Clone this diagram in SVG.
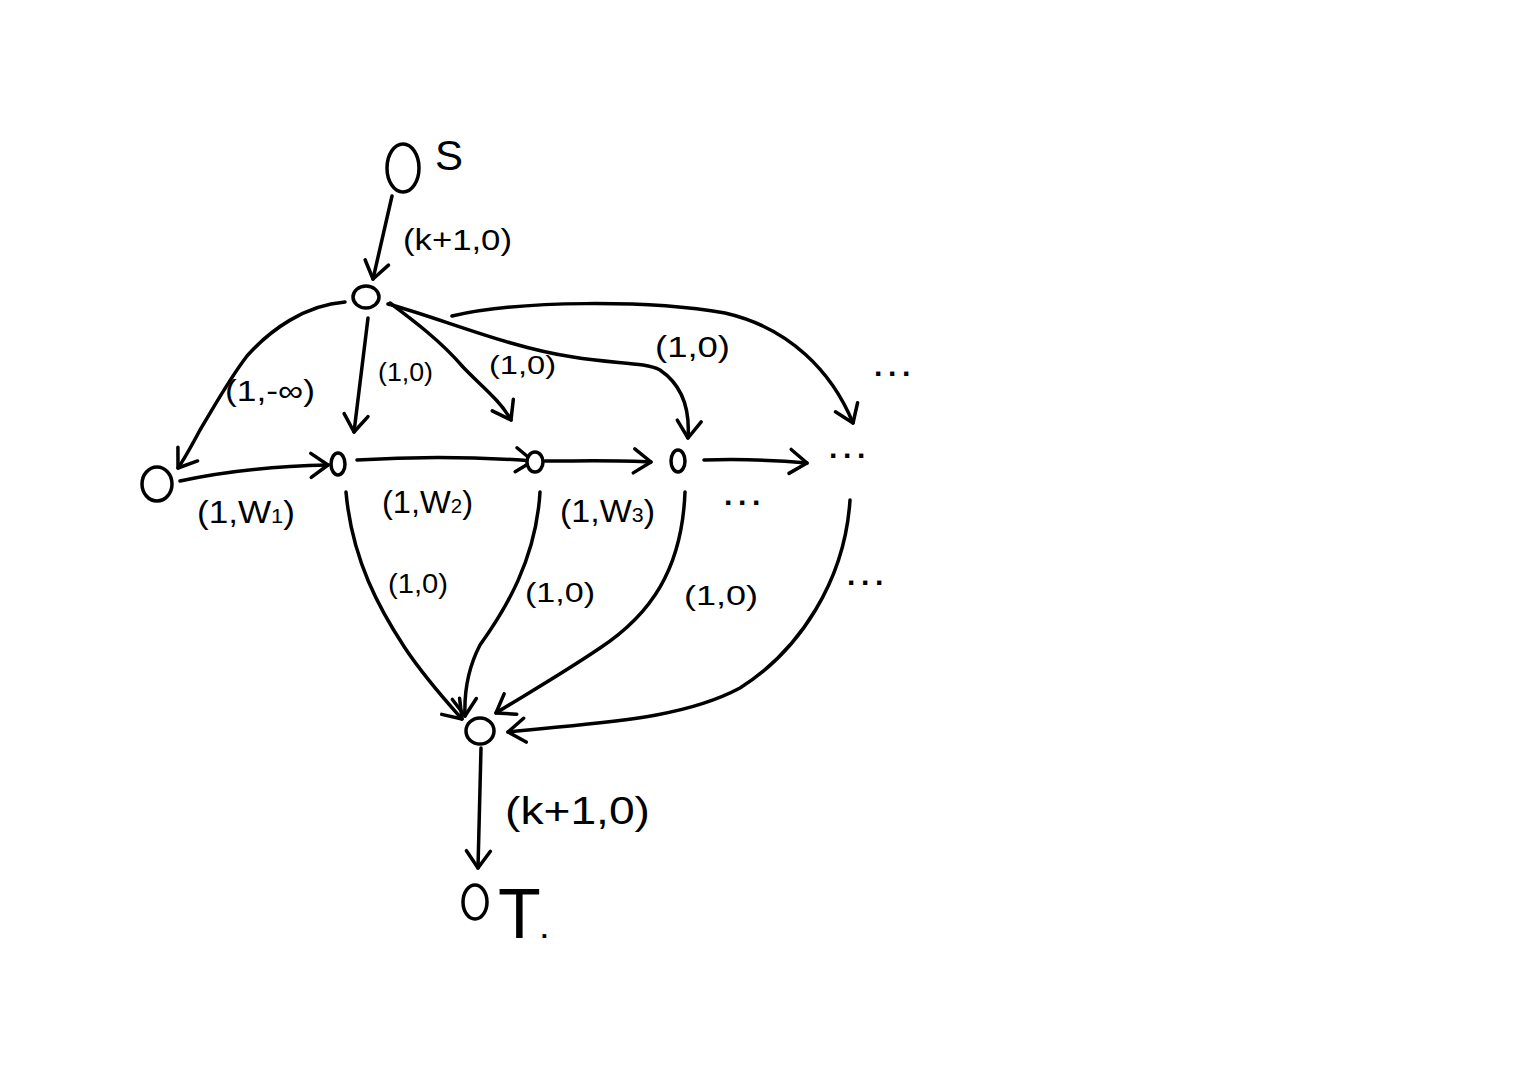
<svg xmlns="http://www.w3.org/2000/svg" width="1536" height="1070" viewBox="0 0 1536 1070">
<style>
.n{fill:#fff;stroke:#000;stroke-width:3.5}
.e{fill:none;stroke:#000;stroke-width:3.5;stroke-linecap:round;stroke-linejoin:round;marker-end:url(#arr)}
.t{font-family:"Liberation Sans","DejaVu Sans",sans-serif;fill:#000}
.d{font-family:"Liberation Sans","DejaVu Sans",sans-serif;fill:#000;font-weight:bold;font-size:30px;letter-spacing:4px}
</style>
<defs>
<marker id="arr" markerUnits="userSpaceOnUse" markerWidth="40" markerHeight="40" refX="0" refY="0" orient="auto" overflow="visible">
<path d="M-17,-12 L0,0 L-17,12" fill="none" stroke="#000" stroke-width="3.5" stroke-linecap="round" stroke-linejoin="round"/>
</marker>
</defs>
<rect width="1536" height="1070" fill="#fff"/>
<g id="connectors">
<path class="e" d="M392,196 L373,279"/>
<path class="e" d="M345,302 C305,305 270,330 247,356 C230,378 215,405 200,430 C192,445 185,458 178,468"/>
<path class="e" d="M368,318 L354,432"/>
<path class="e" d="M390,303 C410,318 440,340 463,367 C480,385 500,400 511,420"/>
<path class="e" d="M388,304 C440,318 510,348 573,357 C615,364 645,362 660,370 C682,385 690,410 688,438"/>
<path class="e" d="M452,316 C520,300 650,300 725,313 C790,328 832,372 853,423"/>
<path class="e" d="M180,481 C230,470 280,466 328,465"/>
<path class="e" d="M357,460 C420,456 480,457 533,461"/>
<path class="e" d="M545,461 C580,461 620,460 651,462"/>
<path class="e" d="M704,460 C740,459 775,460 807,463"/>
<path class="e" d="M346,492 C352,560 380,610 405,648 C425,678 445,700 462,719"/>
<path class="e" d="M540,492 C536,560 505,610 480,645 C468,668 464,690 465,716"/>
<path class="e" d="M685,492 C682,570 650,615 600,648 C560,675 525,695 496,713"/>
<path class="e" d="M850,500 C845,580 800,650 740,688 C680,720 600,722 508,732"/>
<path class="e" d="M481,748 L478,868"/>
</g>
<g id="node-S"><ellipse class="n" cx="403" cy="168" rx="16" ry="24"/><text class="t" x="435" y="170" font-size="42">S</text></g>
<g id="node-A"><ellipse class="n" cx="366" cy="297" rx="13" ry="11"/></g>
<g id="node-L"><ellipse class="n" cx="157" cy="484" rx="15" ry="17"/></g>
<g id="node-N1"><ellipse class="n" cx="338" cy="464" rx="7" ry="11"/></g>
<g id="node-N2"><ellipse class="n" cx="535" cy="462" rx="8" ry="10"/></g>
<g id="node-N3"><ellipse class="n" cx="678" cy="461" rx="7" ry="11"/></g>
<g id="node-B"><ellipse class="n" cx="480" cy="731" rx="14" ry="13"/></g>
<g id="node-T"><ellipse class="n" cx="475" cy="902" rx="12" ry="17"/><text class="t" x="498" y="938" font-size="70">T<tspan font-size="26" font-weight="bold">.</tspan></text></g>
<g id="labels">
<text class="t" x="403" y="250" font-size="30" textLength="109" lengthAdjust="spacingAndGlyphs">(k+1,0)</text>
<text class="t" x="225" y="401" font-size="30" textLength="90" lengthAdjust="spacingAndGlyphs">(1,-∞)</text>
<text class="t" x="378" y="381" font-size="25" textLength="55" lengthAdjust="spacingAndGlyphs">(1,0)</text>
<text class="t" x="489" y="374" font-size="25" textLength="67" lengthAdjust="spacingAndGlyphs">(1,0)</text>
<text class="t" x="655" y="357" font-size="30" textLength="75" lengthAdjust="spacingAndGlyphs">(1,0)</text>
<text class="t" x="197" y="523" font-size="32" textLength="98" lengthAdjust="spacingAndGlyphs">(1,W<tspan font-size="20">1</tspan>)</text>
<text class="t" x="382" y="513" font-size="32" textLength="91" lengthAdjust="spacingAndGlyphs">(1,W<tspan font-size="20">2</tspan>)</text>
<text class="t" x="560" y="522" font-size="32" textLength="95" lengthAdjust="spacingAndGlyphs">(1,W<tspan font-size="20">3</tspan>)</text>
<text class="t" x="388" y="593" font-size="28" textLength="60" lengthAdjust="spacingAndGlyphs">(1,0)</text>
<text class="t" x="525" y="602" font-size="28" textLength="70" lengthAdjust="spacingAndGlyphs">(1,0)</text>
<text class="t" x="684" y="605" font-size="28" textLength="74" lengthAdjust="spacingAndGlyphs">(1,0)</text>
<text class="t" x="505" y="824" font-size="38" textLength="145" lengthAdjust="spacingAndGlyphs">(k+1,0)</text>
<text class="d" x="874" y="384">···</text>
<text class="d" x="829" y="466">···</text>
<text class="d" x="724" y="513">···</text>
<text class="d" x="847" y="593">···</text>
</g>
</svg>
